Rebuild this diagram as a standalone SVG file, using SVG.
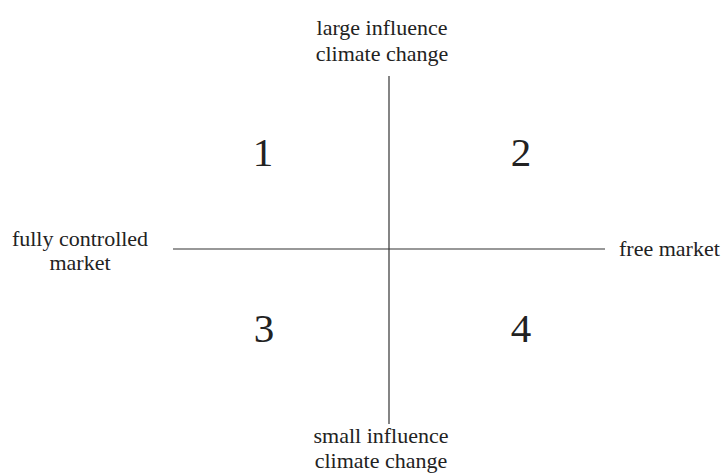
<svg xmlns="http://www.w3.org/2000/svg" width="723" height="474" viewBox="0 0 723 474">
<style>
.lbl{font-size:22px}
.num{font-size:41px}
.axis{stroke:#333;stroke-width:1.2;fill:none}
</style>
<rect width="723" height="474" fill="#fff"/>
<g id="connectors">
<line class="axis" x1="389" y1="76" x2="389" y2="424"/>
<line class="axis" x1="173" y1="249" x2="605" y2="249"/>
</g>
<g font-family="'Liberation Serif', 'DejaVu Serif', serif" fill="#222">
<g id="top"><text class="lbl" x="382" y="35" text-anchor="middle">large influence</text><text class="lbl" x="382" y="61" text-anchor="middle">climate change</text></g>
<g id="bottom"><text class="lbl" x="381" y="443" text-anchor="middle">small influence</text><text class="lbl" x="381" y="468" text-anchor="middle">climate change</text></g>
<g id="left"><text class="lbl" x="80" y="246" text-anchor="middle">fully controlled</text><text class="lbl" x="80" y="270" text-anchor="middle">market</text></g>
<g id="right"><text class="lbl" x="619" y="256">free market</text></g>
<g id="q1"><text class="num" x="263" y="166" text-anchor="middle">1</text></g>
<g id="q2"><text class="num" x="521" y="166" text-anchor="middle">2</text></g>
<g id="q3"><text class="num" x="264" y="342" text-anchor="middle">3</text></g>
<g id="q4"><text class="num" x="521" y="342" text-anchor="middle">4</text></g>
</g>
</svg>
